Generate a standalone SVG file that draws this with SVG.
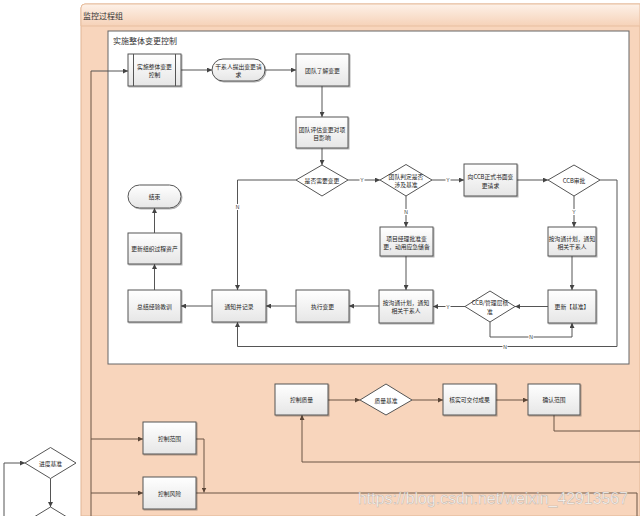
<svg xmlns="http://www.w3.org/2000/svg" width="640" height="516" viewBox="0 0 640 516">
<defs>
<linearGradient id="gb" x1="0" y1="0" x2="0" y2="1"><stop offset="0" stop-color="#ffffff"/><stop offset="1" stop-color="#e6e6e6"/></linearGradient>
<linearGradient id="gh" x1="0" y1="0" x2="0" y2="1"><stop offset="0" stop-color="#fdf1e8"/><stop offset="1" stop-color="#f6d2b8"/></linearGradient>
<filter id="sh" x="-20%" y="-20%" width="150%" height="150%"><feDropShadow dx="1" dy="1" stdDeviation="0.7" flood-color="#000" flood-opacity="0.3"/></filter>
<marker id="ar" viewBox="0 0 6 6" refX="6" refY="3" markerWidth="5" markerHeight="5" markerUnits="userSpaceOnUse" orient="auto"><path d="M0,0 L6,3 L0,6 z" fill="#444"/></marker>
<marker id="arb" viewBox="0 0 6 6" refX="6" refY="3" markerWidth="5" markerHeight="5" markerUnits="userSpaceOnUse" orient="auto"><path d="M0,0 L6,3 L0,6 z" fill="#5a4536"/></marker>
</defs>
<style>
.box{fill:url(#gb);stroke:#555;stroke-width:1;filter:url(#sh)}
.dia{fill:#fff;stroke:#555;stroke-width:1}
.t{font-family:"Noto Sans CJK SC","Noto Sans",sans-serif;font-size:5.8px;fill:#222;text-anchor:middle;dominant-baseline:central}
.ttl{font-family:"Noto Sans CJK SC","Noto Sans",sans-serif;font-size:8px;fill:#333;dominant-baseline:central}
.c{fill:none;stroke:#555;stroke-width:1;marker-end:url(#ar)}
.cn{fill:none;stroke:#555;stroke-width:1}
.cb{fill:none;stroke:#6b5444;stroke-width:1;marker-end:url(#arb)}
.cbn{fill:none;stroke:#6b5444;stroke-width:1}
.lb{font-family:"Liberation Sans",sans-serif;font-size:5px;fill:#333;text-anchor:middle;dominant-baseline:central}
.lbg{fill:#fff}
</style>
<rect width="640" height="516" fill="#fff"/>
<g id="container">
<path d="M81,516 V8 Q81,4 85,4 H640 V516 Z" fill="#f8d5bc" stroke="#e0b595" stroke-width="1"/>
<path d="M81,26 V8 Q81,4 85,4 H640 V26 Z" fill="url(#gh)" stroke="#e8bfa0" stroke-width="1"/>
<text class="ttl" x="83" y="15.5">监控过程组</text>
<rect x="108" y="31" width="521" height="333" fill="#fff" stroke="#666" stroke-width="1"/>
<text class="ttl" x="113" y="40">实施整体变更控制</text>
</g>
<g id="connectors">
<path class="cbn" d="M91,516 V71"/>
<path class="c" d="M91,71 H128"/>
<path class="c" d="M181,70 H212"/>
<path class="c" d="M265,70 H296"/>
<path class="c" d="M322,86 V117"/>
<path class="c" d="M322,148 V165"/>
<path class="c" d="M348,180 H380"/>
<path class="c" d="M296,180 H237.5 V290"/>
<path class="c" d="M432,180 H464"/>
<path class="c" d="M406,196 V227"/>
<path class="c" d="M517,180 H548"/>
<path class="c" d="M574,196 V227"/>
<path class="c" d="M600,180 H617 V346.5 H237.5 V322"/>
<path class="c" d="M572,256 V290"/>
<path class="c" d="M548,306.5 H515"/>
<path class="c" d="M465,306.5 H433"/>
<path class="c" d="M490,322 V337 H572 V323"/>
<path class="c" d="M406,256 V290"/>
<path class="c" d="M379,306 H349"/>
<path class="c" d="M296,306 H266"/>
<path class="c" d="M212,306 H181"/>
<path class="c" d="M154.5,290 V264"/>
<path class="c" d="M154.5,233 V208"/>
<rect class="lbg" x="359.5" y="177" width="5" height="6"/><text class="lb" x="362" y="180">Y</text>
<rect class="lbg" x="235" y="204" width="5" height="6"/><text class="lb" x="237.5" y="207">N</text>
<rect class="lbg" x="445.5" y="177" width="5" height="6"/><text class="lb" x="448" y="180">Y</text>
<rect class="lbg" x="403.5" y="209" width="5" height="6"/><text class="lb" x="406" y="212">N</text>
<rect class="lbg" x="571.5" y="209" width="5" height="6"/><text class="lb" x="574" y="212">Y</text>
<rect class="lbg" x="502.5" y="343.5" width="5" height="6"/><text class="lb" x="505" y="346.5">N</text>
<rect class="lbg" x="445.5" y="303.5" width="5" height="6"/><text class="lb" x="448" y="306.5">Y</text>
<rect class="lbg" x="528.5" y="334" width="5" height="6"/><text class="lb" x="531" y="337">N</text>
<path class="cb" d="M328,400 H360"/>
<path class="cb" d="M412,400 H443"/>
<path class="cb" d="M496,400 H528"/>
<path class="cbn" d="M554,415 V431 H640"/>
<path class="cb" d="M640,462 H302 V415"/>
<path class="cb" d="M91,439 H143"/>
<path class="cb" d="M91,493 H143"/>
<path class="cb" d="M196,439 H204 V492.5"/>
<path class="cbn" d="M196,493 H637 V516"/>
<path class="c" d="M4,516 V463 H25"/>
<path class="c" d="M50.5,478.5 V507"/>
</g>
<g id="n1"><rect class="box" x="128" y="54" width="53" height="32"/><path d="M133.5,54 V86 M175.5,54 V86" stroke="#555" stroke-width="1"/><text class="t" x="154.5" y="66">实施整体变更</text><text class="t" x="154.5" y="74">控制</text></g>
<g id="n2"><rect class="box" x="212" y="59" width="53" height="22" rx="11"/><text class="t" x="238.5" y="66">干系人提出变更请</text><text class="t" x="238.5" y="74">求</text></g>
<g id="n3"><rect class="box" x="296" y="54" width="53" height="32"/><text class="t" x="322.5" y="70">团队了解变更</text></g>
<g id="n4"><rect class="box" x="296" y="117" width="52" height="31"/><text class="t" x="322" y="129">团队评估变更对项</text><text class="t" x="322" y="137.5">目影响</text></g>
<g id="d1"><polygon class="dia" points="296,180 322,165 348,180 322,196"/><text class="t" x="322" y="180.5">是否需要变更</text></g>
<g id="d2"><polygon class="dia" points="380,180 406,164.5 432,180 406,196"/><text class="t" x="406" y="176">团队判定是否</text><text class="t" x="406" y="184.5">涉及基准</text></g>
<g id="n5"><rect class="box" x="464" y="164" width="53" height="32"/><text class="t" x="490.5" y="176.5">向CCB正式书面变</text><text class="t" x="490.5" y="185">更请求</text></g>
<g id="d3"><polygon class="dia" points="548,180 574,165 600,180 574,196"/><text class="t" x="574" y="180.5">CCB审批</text></g>
<g id="n6"><rect class="box" x="380" y="227" width="53" height="29"/><text class="t" x="406.5" y="238">项目经理批准变</text><text class="t" x="406.5" y="246.5">更，动用应急储备</text></g>
<g id="n7"><rect class="box" x="548" y="227" width="48" height="29"/><text class="t" x="572" y="238">按沟通计划，通知</text><text class="t" x="572" y="246.5">相关干系人</text></g>
<g id="n8"><rect class="box" x="548" y="290" width="48" height="33"/><text class="t" x="572" y="306.5">更新【基准】</text></g>
<g id="d4"><polygon class="dia" points="465,306.5 490,291 515,306.5 490,322"/><text class="t" x="490" y="302.5">CCB/管理层核</text><text class="t" x="490" y="311">准</text></g>
<g id="n9"><rect class="box" x="379" y="290" width="54" height="33"/><text class="t" x="406" y="302">按沟通计划，通知</text><text class="t" x="406" y="310.5">相关干系人</text></g>
<g id="n10"><rect class="box" x="296" y="290" width="53" height="32"/><text class="t" x="322.5" y="306">执行变更</text></g>
<g id="n11"><rect class="box" x="212" y="290" width="54" height="32"/><text class="t" x="239" y="306">通知并记录</text></g>
<g id="n12"><rect class="box" x="128" y="290" width="53" height="32"/><text class="t" x="154.5" y="306">总结经验教训</text></g>
<g id="n13"><rect class="box" x="128" y="233" width="53" height="31"/><text class="t" x="154.5" y="248">更新组织过程资产</text></g>
<g id="n14"><rect class="box" x="128" y="185" width="53" height="23" rx="11.5"/><text class="t" x="154.5" y="196.5">结束</text></g>
<g id="n15"><rect class="box" x="275" y="384" width="53" height="31"/><text class="t" x="301.5" y="399.5">控制质量</text></g>
<g id="d5"><polygon class="dia" points="360,400 386,384 412,400 386,415"/><text class="t" x="386" y="400">质量基准</text></g>
<g id="n16"><rect class="box" x="443" y="384" width="53" height="31"/><text class="t" x="469.5" y="399.5">核实可交付成果</text></g>
<g id="n17"><rect class="box" x="528" y="384" width="52" height="31"/><text class="t" x="554" y="399.5">确认范围</text></g>
<g id="n18"><rect class="box" x="143" y="422" width="53" height="32"/><text class="t" x="169.5" y="438">控制范围</text></g>
<g id="n19"><rect class="box" x="143" y="477" width="53" height="32"/><text class="t" x="169.5" y="493">控制风险</text></g>
<g id="d6"><polygon class="dia" points="25,463 50.5,447.5 76,463 50.5,478.5"/><text class="t" x="50.5" y="463">进度基准</text></g>
<g id="d7"><polygon class="dia" points="25,522.5 50.5,507 76,522.5 50.5,538"/></g>
<text x="358" y="504" font-family="Liberation Sans, sans-serif" font-size="16.5" textLength="270" lengthAdjust="spacingAndGlyphs" fill="#ffffff" fill-opacity="0.85" stroke="#8a8a8a" stroke-opacity="0.55" stroke-width="0.5">https://blog.csdn.net/weixin_42913567</text>
</svg>
